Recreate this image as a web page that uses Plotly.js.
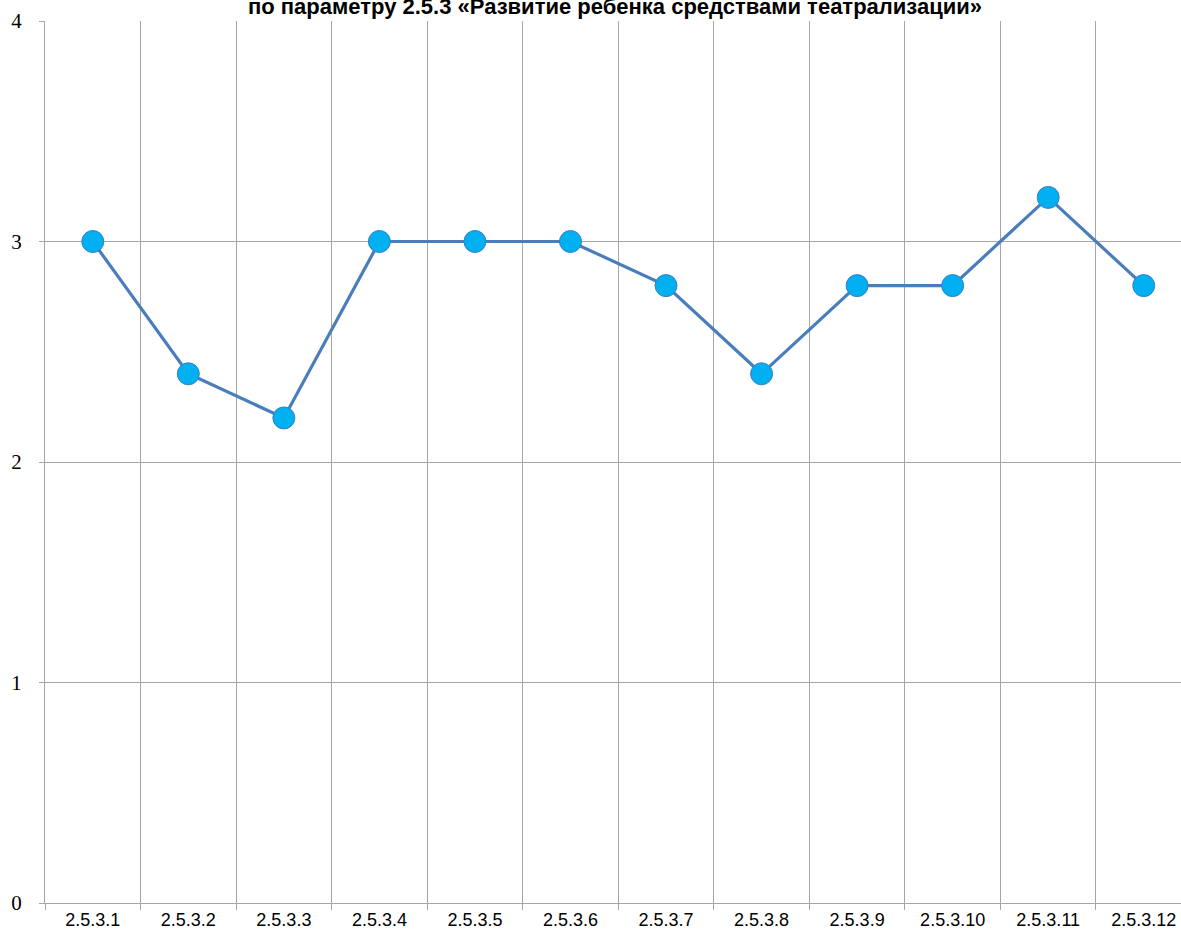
<!DOCTYPE html>
<html>
<head>
<meta charset="utf-8">
<script src="https://cdn.plot.ly/plotly-3.0.1.min.js"></script>
<style>html,body{margin:0;padding:0;overflow:hidden;background:#fff;}</style>
</head>
<body>
<div id="chart" style="width:1181px;height:940px;"></div>
<script>
const categories = ["2.5.3.1","2.5.3.2","2.5.3.3","2.5.3.4","2.5.3.5","2.5.3.6","2.5.3.7","2.5.3.8","2.5.3.9","2.5.3.10","2.5.3.11","2.5.3.12"];
const values = [3, 2.4, 2.2, 3, 3, 3, 2.8, 2.4, 2.8, 2.8, 3.2, 2.8];
const yTicks = [0, 1, 2, 3, 4];
const titleText = "по параметру 2.5.3 «Развитие ребенка средствами театрализации»";

const trace = {
  x: categories,
  y: values,
  type: "scatter",
  mode: "lines+markers",
  line: {color: "#4A7EBB", width: 3.2},
  marker: {size: 22, color: "#00B0F0", line: {color: "#3C7DC4", width: 1}},
  hoverinfo: "x+y"
};

const grid = "#A6A6A6";
const layout = {
  width: 1181,
  height: 940,
  margin: {l: 45, r: 0, t: 21, b: 37, pad: 0},
  paper_bgcolor: "#ffffff",
  plot_bgcolor: "#ffffff",
  showlegend: false,
  title: {
    text: titleText,
    font: {family: "Liberation Sans, Arial, sans-serif", size: 22, color: "#000", weight: "bold"},
    x: 615/1181, xanchor: "center", xref: "container",
    y: 1 - 6/940, yanchor: "middle", yref: "container"
  },
  xaxis: {
    type: "category",
    range: [-0.5, 11.39],
    tickson: "boundaries",
    showgrid: true, gridcolor: grid, gridwidth: 1,
    ticks: "outside", ticklen: 6, tickcolor: grid, tickwidth: 1,
    showline: true, linecolor: grid, linewidth: 1,
    zeroline: false,
    tickfont: {family: "Liberation Sans Narrow, Arial Narrow, Liberation Sans, sans-serif", size: 18, color: "#000"},
    fixedrange: true
  },
  yaxis: {
    range: [0, 4],
    tickvals: yTicks,
    ticktext: yTicks.map(String),
    showgrid: true, gridcolor: grid, gridwidth: 1,
    ticks: "outside", ticklen: 5, tickcolor: grid, tickwidth: 1,
    ticklabelstandoff: 13,
    showline: true, linecolor: grid, linewidth: 1,
    zeroline: false,
    tickfont: {family: "Liberation Serif, Times New Roman, serif", size: 21, color: "#000"},
    fixedrange: true
  }
};

Plotly.newPlot("chart", [trace], layout, {displayModeBar: false, staticPlot: true});
</script>
</body>
</html>
